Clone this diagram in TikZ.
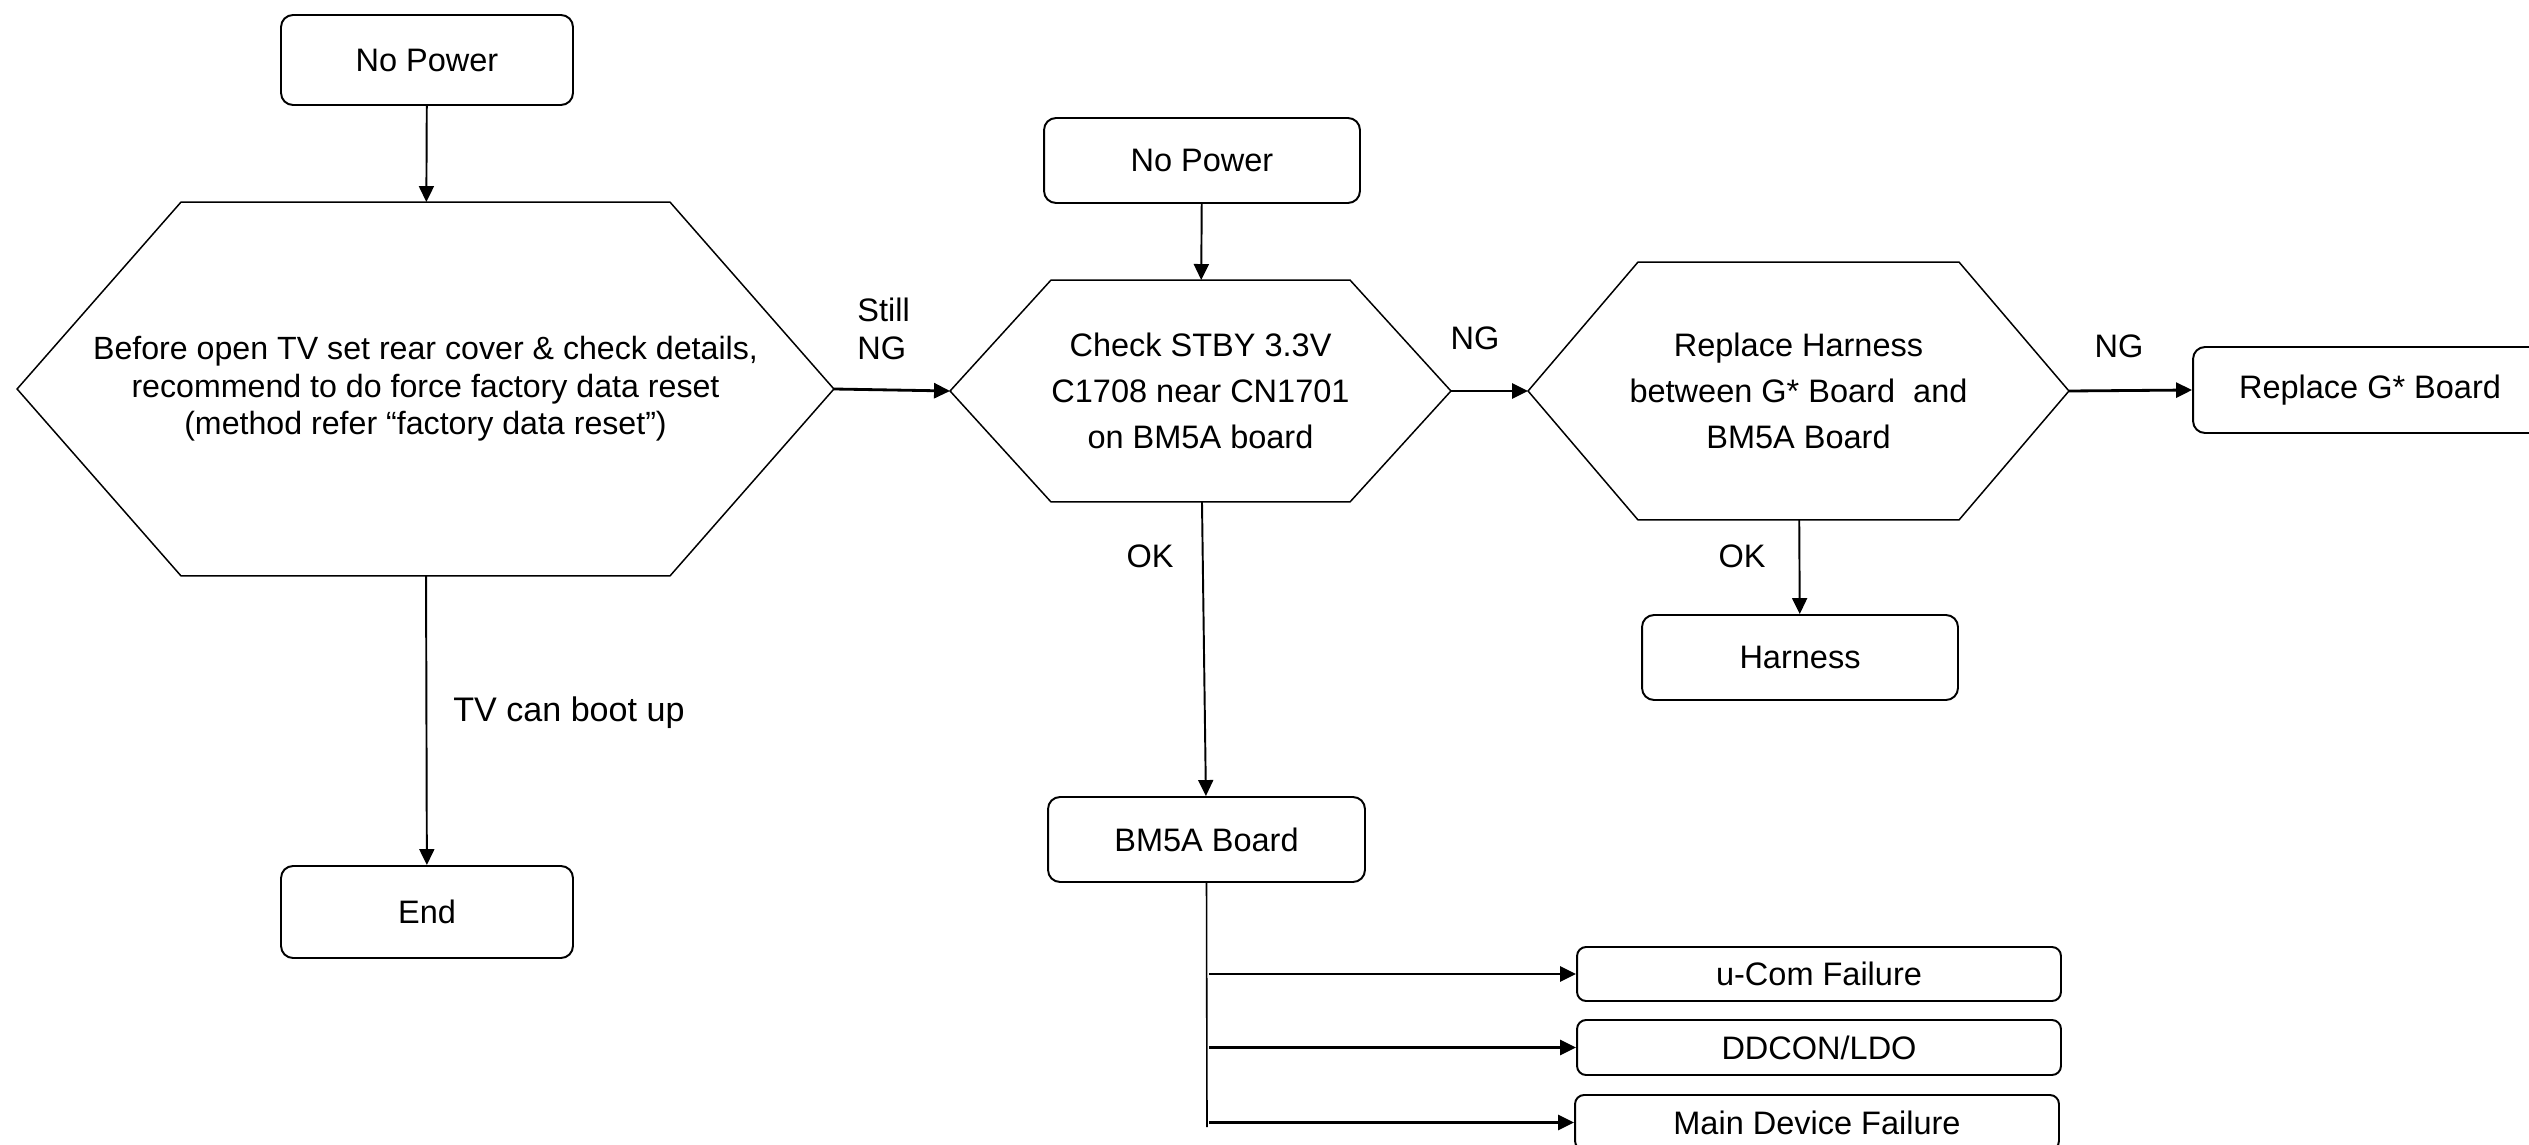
\documentclass[tikz,border=0pt]{standalone}
\usepackage{fontspec}
\setmainfont{Liberation Sans}
\usetikzlibrary{arrows.meta}

\newcommand{\hexframe}[2]{\draw[hexline] (#1.west) -- ([xshift=#2]#1.north west) -- ([xshift=-#2]#1.north east) -- (#1.east) -- ([xshift=-#2]#1.south east) -- ([xshift=#2]#1.south west) -- cycle;}

\tikzset{
  box/.style={draw, rounded corners=0.24cm, line width=1.1pt, font=\fontsize{18.5}{22}\selectfont, minimum width=6.32cm, minimum height=1.7cm, inner sep=0pt},
  failbox/.style={box, minimum width=9.68cm, minimum height=1.1cm, rounded corners=0.18cm},
  hexa/.style={align=center, inner sep=0pt, outer sep=0pt, font=\fontsize{18.5}{26}\selectfont},
  hexline/.style={line width=0.85pt, line join=miter},
  lbl/.style={font=\fontsize{18.5}{21.5}\selectfont, inner sep=0pt},
  arr/.style={-{Triangle[length=0.32cm,width=0.3cm]}, line width=1.1pt},
  harr/.style={arr, line width=1.6pt}
}

\begin{document}
\begin{tikzpicture}[x=0.02cm, y=-0.02cm]
\useasboundingbox (0,0) rectangle (2529,1145);
% first check
\node[box, minimum width=5.84cm, minimum height=1.8cm] (np1) at (427,60) {No Power};
\node[hexa, minimum width=16.34cm, minimum height=7.48cm, font=\fontsize{18.3}{21.3}\selectfont] (hx1) at (425.5,389) {Before open TV set rear cover \& check details,\\recommend to do force factory data reset\\(method refer “factory data reset”)};
\hexframe{hx1}{3.28cm}
\node[box, minimum width=5.84cm, minimum height=1.84cm] (endb) at (427,912) {End};
\node[lbl, anchor=west, font=\fontsize{19.4}{22}\selectfont] (boot) at (453,713) {TV can boot up};
\node[lbl, anchor=west, align=left] (still) at (857,329) {Still\\NG};
% STBY check
\node[box] (np2) at (1202,160.5) {No Power};
\node[hexa, minimum width=10.02cm, minimum height=4.44cm] (hx2) at (1200.5,391) {Check STBY 3.3V\\C1708 near CN1701\\on BM5A board};
\hexframe{hx2}{2.02cm}
\node[lbl] (ng1) at (1475,338) {NG};
\node[lbl] (ok1) at (1150,556) {OK};
% harness
\node[hexa, minimum width=10.82cm, minimum height=5.16cm] (hx3) at (1798.5,391) {Replace Harness\\between G* Board\ \ and\\BM5A Board};
\hexframe{hx3}{2.2cm}
\node[lbl] (ng2) at (2119,346) {NG};
\node[lbl] (ok2) at (1742,556) {OK};
\node[box, minimum width=7.08cm, minimum height=1.72cm] (gbrd) at (2370,390) {Replace G* Board};
\node[box] (harn) at (1800,657.5) {Harness};
% BM5A board
\node[box, minimum width=6.34cm] (bm5a) at (1206.5,839.5) {BM5A Board};
\node[failbox, minimum height=1.08cm] (ucom) at (1819,974) {u-Com Failure};
\node[failbox] (ddcon) at (1819,1047.5) {DDCON/LDO};
\node[failbox] (mdev) at (1817,1122.5) {Main Device Failure};
\coordinate (tk) at (1207,1127);

\draw[arr] (np1) -- (hx1);
\draw[arr] (hx1) -- (endb);
\draw[harr] (hx1.east) -- (hx2.west);
\draw[arr] (np2) -- (hx2);
\draw[harr] (hx2.east) -- (hx3.west);
\draw[harr] (hx3.east) -- (gbrd.west);
\draw[arr] (hx3) -- (harn);
\draw[arr] (hx2) -- (bm5a);
\draw[line width=0.9pt] (bm5a.south) -- (tk);
\draw[harr] ([xshift=0.04cm]tk |- ucom.west) -- (ucom.west);
\draw[harr] ([xshift=0.04cm]tk |- ddcon.west) -- (ddcon.west);
\draw[harr] ([xshift=0.04cm]tk |- mdev.west) -- (mdev.west);
\end{tikzpicture}
\end{document}
